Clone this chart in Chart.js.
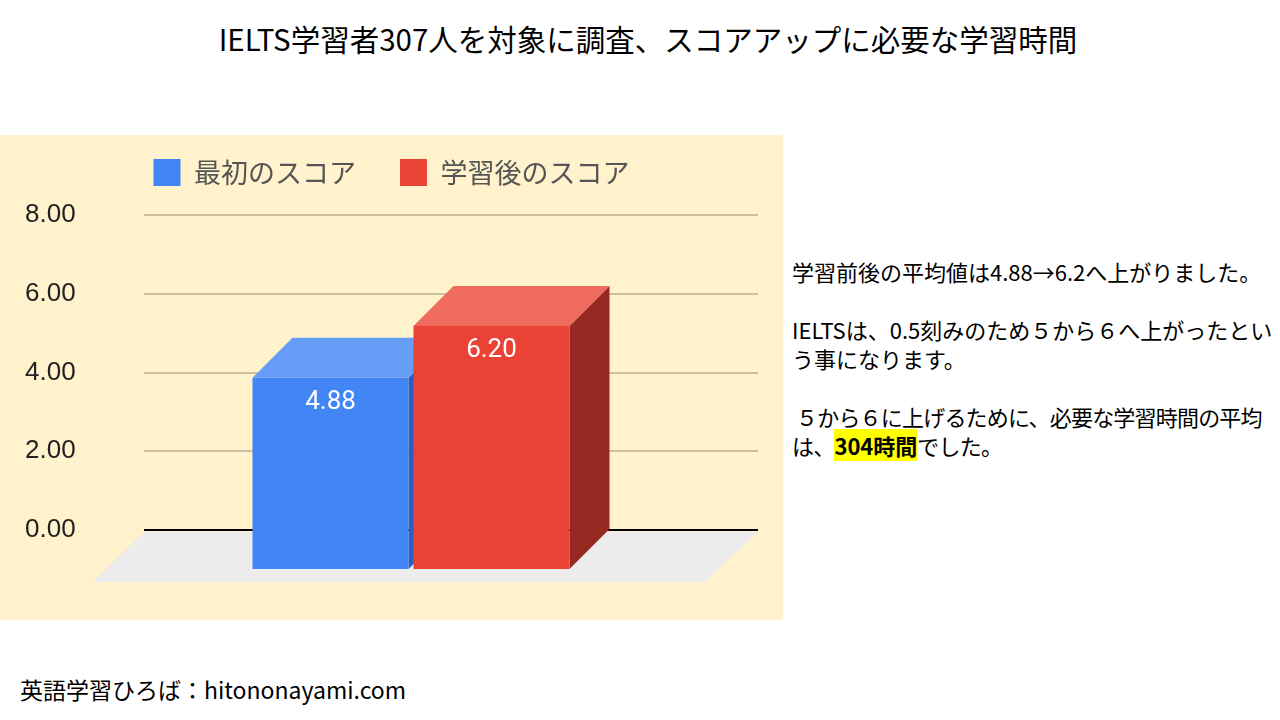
<!DOCTYPE html>
<html>
<head>
<meta charset="utf-8">
<script src="https://cdn.jsdelivr.net/npm/chart.js@4.4.1/dist/chart.umd.min.js"></script>
<style>
  html, body { margin: 0; padding: 0; background: #fff; }
  body { width: 1280px; height: 720px; position: relative; overflow: hidden;
         font-family: "Noto Sans CJK JP", sans-serif; color: #000; }
  #title { position: absolute; left: 8px; width: 1280px; top: 16px; text-align: center;
           font-size: 29.5px; line-height: 44px; white-space: nowrap; }
  #box { position: absolute; left: 0; top: 135px; width: 783px; height: 485px; background: #fff2cc; }
  #note { position: absolute; left: 792px; top: 257px; width: 488px; font-size: 22px; line-height: 29px;
          white-space: nowrap; }
  #note p { margin: 0 0 29px 0; }
  #note p.tight { letter-spacing: -0.8px; }
  #note .lead { display: inline-block; width: 4px; }
  #note b { background: #ffff00; letter-spacing: 0; }
  #footer { position: absolute; left: 20px; top: 673px; font-size: 23px; line-height: 32px; }
</style>
</head>
<body>
<div id="title">IELTS学習者307人を対象に調査、スコアアップに必要な学習時間</div>
<div id="box"><canvas id="scoreChart"></canvas></div>
<div id="note">
  <p>学習前後の平均値は4.88→6.2へ上がりました。</p>
  <p>IELTSは、0.5刻みのため５から６へ上がったとい<br>う事になります。</p>
  <p class="tight"><span class="lead"></span>５から６に上げるために、必要な学習時間の平均<br>は、<b>304時間</b>でした。</p>
</div>
<div id="footer">英語学習ひろば：hitononayami.com</div>

<script>
// chart data
const categories = [''];
const seriesNames = ['最初のスコア', '学習後のスコア'];
const firstScore = [4.88];
const afterScore = [6.2];
const yTicks = [0, 2, 4, 6, 8];

const frontColors = ['#4285f4', '#ea4335'];
const topColors = ['#669df6', '#ee6b5e'];
const sideColors = ['#2a5ec0', '#962a22'];
const DEPTH = 40;

// draws the bars as boxes: the element rect is the back face, front face is moved down-left
const bars3d = {
    id: 'bars3d',
    beforeDatasetsDraw(chart) {
        const ctx = chart.ctx;
        const area = chart.chartArea;
        const base = chart.scales.y.getPixelForValue(0);

        // floor
        ctx.save();
        ctx.fillStyle = '#ececec';
        ctx.beginPath();
        ctx.moveTo(area.left, base + 2);
        ctx.lineTo(area.right, base + 2);
        ctx.lineTo(area.right - 53, base + 52);
        ctx.lineTo(area.left - 51, base + 52);
        ctx.closePath();
        ctx.fill();

        chart.data.datasets.forEach((ds, i) => {
            chart.getDatasetMeta(i).data.forEach((el, j) => {
                const p = el.getProps(['x', 'y', 'base', 'width'], true);
                const bl = p.x - p.width / 2, br = p.x + p.width / 2;
                const bt = p.y, bb = p.base;
                const fl = bl - DEPTH, fr = br - DEPTH;
                const ft = bt + DEPTH, fb = bb + DEPTH;

                ctx.fillStyle = sideColors[i];
                ctx.beginPath();
                ctx.moveTo(fr, ft); ctx.lineTo(br, bt); ctx.lineTo(br, bb); ctx.lineTo(fr, fb);
                ctx.closePath(); ctx.fill();

                ctx.fillStyle = topColors[i];
                ctx.beginPath();
                ctx.moveTo(fl, ft); ctx.lineTo(fr, ft); ctx.lineTo(br, bt); ctx.lineTo(bl, bt);
                ctx.closePath(); ctx.fill();

                ctx.fillStyle = frontColors[i];
                ctx.fillRect(fl, ft, fr - fl, fb - ft);

                ctx.fillStyle = '#fff';
                ctx.font = '26px Roboto';
                ctx.textAlign = 'center';
                ctx.textBaseline = 'middle';
                ctx.fillText(ds.data[j].toFixed(2), (fl + fr) / 2, ft + 25);
            });
        });
        ctx.restore();
        return false;
    }
};

function initChart() {
    const ctx = document.getElementById('scoreChart').getContext('2d');
    new Chart(ctx, {
        type: 'bar',
        data: {
            labels: categories,
            datasets: [
                { label: seriesNames[0], data: firstScore, backgroundColor: frontColors[0] },
                { label: seriesNames[1], data: afterScore, backgroundColor: frontColors[1] }
            ]
        },
        options: {
            responsive: true,
            maintainAspectRatio: false,
            animation: false,
            categoryPercentage: 0.5244,
            barPercentage: 0.969,
            layout: { padding: { left: 25, right: 25, top: -20, bottom: 90 } },
            plugins: {
                legend: {
                    position: 'top',
                    labels: {
                        color: '#555',
                        boxWidth: 27,
                        boxHeight: 27,
                        padding: 44,
                        font: { size: 27, family: '"Noto Sans CJK JP"' }
                    }
                },
                // empty title used only as a gap between legend and plot
                title: {
                    display: true,
                    text: '',
                    weight: 500,
                    font: { size: 1, lineHeight: 1 },
                    padding: { top: 18, bottom: 0 }
                },
                tooltip: { enabled: false }
            },
            scales: {
                x: { display: false },
                y: {
                    min: 0,
                    max: 8,
                    afterBuildTicks: (axis) => { axis.ticks = yTicks.map(v => ({ value: v })); },
                    afterFit: (axis) => { axis.width = 119; },
                    border: { display: false },
                    grid: {
                        drawTicks: false,
                        lineWidth: 2,
                        color: (c) => c.tick && c.tick.value === 0 ? '#000' : '#cbc09f'
                    },
                    ticks: {
                        crossAlign: 'far',
                        color: '#222',
                        font: { size: 26, family: '"Liberation Sans"' },
                        callback: (v) => Number(v).toFixed(2)
                    }
                }
            }
        },
        plugins: [bars3d]
    });
}

document.addEventListener('DOMContentLoaded', initChart);
</script>
</body>
</html>
